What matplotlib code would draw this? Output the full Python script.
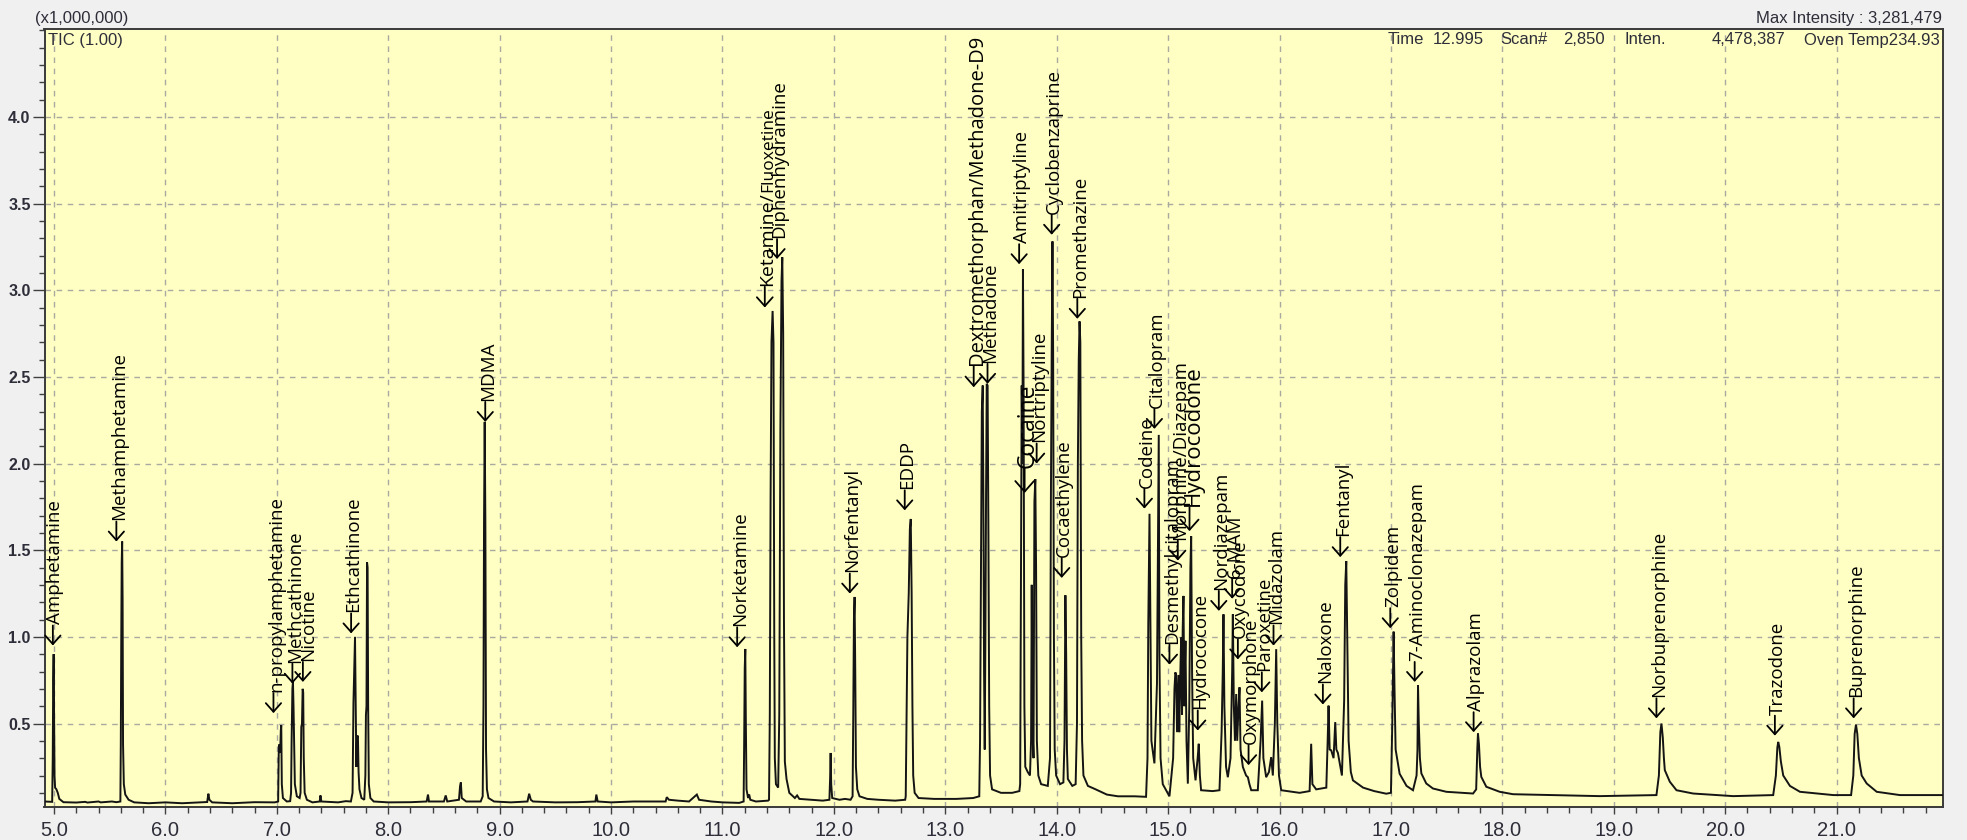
import matplotlib
matplotlib.use("Agg")
import matplotlib.pyplot as plt
from matplotlib.ticker import MultipleLocator, FormatStrFormatter
from matplotlib.transforms import offset_copy

# ---------------- TIC trace: (retention time [min], intensity [x1e6]) ----------------
tic_points = [
    (4.915, 0.050), (4.984, 0.048), (4.989, 0.30), (4.993, 0.75), (4.997, 0.90), (5.001, 0.52),
    (5.005, 0.20), (5.010, 0.13), (5.022, 0.12), (5.034, 0.10), (5.048, 0.065), (5.085, 0.046),
    (5.20, 0.044), (5.28, 0.048), (5.30, 0.044), (5.40, 0.050), (5.42, 0.045), (5.52, 0.050), (5.56, 0.046),
    (5.596, 0.050), (5.600, 0.40), (5.604, 1.00), (5.608, 1.43), (5.612, 1.55), (5.616, 1.22), (5.620, 0.38),
    (5.627, 0.15), (5.640, 0.09), (5.670, 0.060), (5.720, 0.045),
    (5.85, 0.040), (6.00, 0.045), (6.15, 0.040), (6.30, 0.045), (6.375, 0.047), (6.386, 0.095), (6.395, 0.060),
    (6.42, 0.045), (6.60, 0.040), (6.80, 0.046), (6.98, 0.045),
    (7.012, 0.050), (7.018, 0.36), (7.024, 0.38), (7.030, 0.33), (7.036, 0.46), (7.040, 0.49), (7.045, 0.15),
    (7.055, 0.07), (7.090, 0.050), (7.120, 0.052),
    (7.128, 0.10), (7.133, 0.40), (7.140, 0.70), (7.145, 0.74), (7.150, 0.60), (7.155, 0.42), (7.162, 0.15),
    (7.180, 0.08), (7.205, 0.07),
    (7.213, 0.10), (7.220, 0.48), (7.226, 0.50), (7.232, 0.70), (7.237, 0.68), (7.242, 0.30), (7.250, 0.10),
    (7.270, 0.06), (7.320, 0.045),
    (7.385, 0.050), (7.392, 0.085), (7.400, 0.050), (7.550, 0.045), (7.620, 0.052), (7.665, 0.050),
    (7.680, 0.10), (7.688, 0.62), (7.695, 0.82), (7.702, 1.00), (7.708, 0.60), (7.714, 0.25), (7.720, 0.42),
    (7.728, 0.43), (7.734, 0.22), (7.742, 0.12), (7.760, 0.07), (7.785, 0.06),
    (7.795, 0.20), (7.800, 0.55), (7.805, 0.60), (7.810, 1.43), (7.815, 1.40), (7.820, 0.60), (7.826, 0.15),
    (7.840, 0.07), (7.870, 0.05),
    (8.00, 0.045), (8.20, 0.046), (8.345, 0.050), (8.357, 0.090), (8.366, 0.050), (8.500, 0.050), (8.516, 0.085),
    (8.530, 0.050), (8.635, 0.060), (8.645, 0.14), (8.652, 0.16), (8.660, 0.07), (8.700, 0.050), (8.830, 0.050),
    (8.848, 0.08), (8.855, 0.60), (8.860, 1.66), (8.866, 2.24), (8.872, 1.66), (8.878, 0.35), (8.886, 0.12),
    (8.900, 0.07), (8.950, 0.050),
    (9.10, 0.045), (9.25, 0.050), (9.265, 0.095), (9.28, 0.060), (9.30, 0.050), (9.50, 0.045), (9.70, 0.046),
    (9.86, 0.050), (9.868, 0.090), (9.88, 0.050), (10.00, 0.045), (10.20, 0.050), (10.49, 0.050), (10.50, 0.075),
    (10.52, 0.060), (10.60, 0.055), (10.70, 0.050), (10.77, 0.090), (10.79, 0.060), (10.90, 0.050),
    (11.00, 0.045), (11.15, 0.042),
    (11.190, 0.050), (11.195, 0.40), (11.200, 0.82), (11.205, 0.93), (11.210, 0.50), (11.216, 0.12),
    (11.230, 0.07), (11.240, 0.09), (11.250, 0.06), (11.300, 0.050), (11.410, 0.055),
    (11.418, 0.06), (11.425, 0.55), (11.432, 1.80), (11.440, 2.70), (11.450, 2.88), (11.458, 2.70),
    (11.465, 1.00), (11.470, 0.30), (11.480, 0.15), (11.500, 0.13), (11.510, 0.55), (11.520, 2.20),
    (11.530, 3.05), (11.537, 3.19), (11.545, 2.75), (11.552, 1.10), (11.560, 0.28), (11.575, 0.18),
    (11.600, 0.10), (11.650, 0.07), (11.670, 0.085), (11.690, 0.065), (11.800, 0.060), (11.900, 0.055),
    (11.960, 0.060), (11.966, 0.18), (11.971, 0.33), (11.976, 0.15), (11.985, 0.07), (12.05, 0.060),
    (12.10, 0.065), (12.150, 0.060),
    (12.168, 0.08), (12.174, 0.55), (12.180, 1.10), (12.186, 1.23), (12.192, 0.80), (12.198, 0.25),
    (12.210, 0.12), (12.230, 0.08), (12.30, 0.065), (12.40, 0.060), (12.55, 0.055), (12.640, 0.060),
    (12.645, 0.08), (12.652, 0.50), (12.660, 1.00), (12.672, 1.25), (12.682, 1.62), (12.690, 1.68),
    (12.698, 1.25), (12.705, 0.60), (12.712, 0.20), (12.725, 0.10), (12.760, 0.07), (12.90, 0.065),
    (13.10, 0.065), (13.250, 0.07),
    (13.305, 0.08), (13.312, 0.40), (13.320, 1.30), (13.328, 2.30), (13.336, 2.45), (13.342, 1.80),
    (13.348, 0.80), (13.354, 0.35), (13.360, 1.00), (13.366, 1.83), (13.372, 2.46), (13.380, 2.45),
    (13.387, 1.60), (13.394, 0.60), (13.402, 0.20), (13.420, 0.12), (13.50, 0.10), (13.60, 0.10), (13.665, 0.11),
    (13.672, 0.15), (13.680, 1.50), (13.686, 2.45), (13.692, 2.00), (13.697, 3.12), (13.703, 2.40),
    (13.710, 0.60), (13.718, 0.25), (13.740, 0.22), (13.760, 0.20),
    (13.770, 0.40), (13.776, 1.30), (13.782, 0.50), (13.792, 0.30), (13.800, 1.78), (13.808, 1.91),
    (13.815, 1.40), (13.822, 0.40), (13.835, 0.20), (13.860, 0.15), (13.920, 0.14),
    (13.940, 0.30), (13.948, 1.80), (13.955, 2.64), (13.962, 3.281479), (13.968, 2.64), (13.975, 1.00),
    (13.982, 0.35), (13.995, 0.20), (14.030, 0.15), (14.060, 0.16),
    (14.070, 0.40), (14.078, 1.24), (14.085, 0.90), (14.092, 0.35), (14.100, 0.18), (14.140, 0.14), (14.170, 0.15),
    (14.182, 0.50), (14.190, 2.00), (14.198, 2.60), (14.205, 2.82), (14.212, 2.70), (14.220, 1.00),
    (14.228, 0.40), (14.240, 0.20), (14.280, 0.14), (14.350, 0.12), (14.450, 0.09), (14.550, 0.08),
    (14.700, 0.08), (14.802, 0.077),
    (14.815, 0.30), (14.822, 1.07), (14.828, 1.40), (14.833, 1.71), (14.840, 1.20), (14.850, 0.40),
    (14.877, 0.27), (14.900, 0.73), (14.910, 1.60), (14.916, 2.165), (14.922, 0.90), (14.932, 0.30),
    (14.952, 0.15), (15.012, 0.08), (15.045, 0.30), (15.057, 0.70), (15.065, 0.795), (15.072, 0.78),
    (15.080, 0.45), (15.093, 0.78), (15.100, 0.45), (15.110, 0.80), (15.117, 0.996), (15.125, 0.55),
    (15.131, 1.05), (15.138, 1.236), (15.145, 0.60), (15.150, 0.80), (15.156, 0.977), (15.165, 0.40),
    (15.177, 0.153), (15.190, 0.60), (15.200, 1.40), (15.207, 1.58), (15.215, 0.80), (15.225, 0.30),
    (15.246, 0.172), (15.265, 0.30), (15.275, 0.383), (15.285, 0.20), (15.296, 0.115), (15.400, 0.11),
    (15.461, 0.115), (15.480, 0.45), (15.490, 0.78), (15.497, 1.13), (15.505, 0.60), (15.520, 0.25),
    (15.536, 0.19), (15.560, 0.30), (15.575, 0.80), (15.581, 1.13), (15.590, 0.60), (15.600, 0.40),
    (15.611, 0.67), (15.620, 0.40), (15.632, 0.60), (15.641, 0.709), (15.650, 0.35), (15.671, 0.249),
    (15.700, 0.20), (15.716, 0.19), (15.730, 0.15), (15.746, 0.115), (15.805, 0.115), (15.830, 0.40),
    (15.844, 0.632), (15.855, 0.30), (15.880, 0.19), (15.905, 0.22), (15.925, 0.306), (15.940, 0.20),
    (15.958, 0.50), (15.970, 0.929), (15.980, 0.50), (15.995, 0.20), (16.015, 0.115), (16.180, 0.10),
    (16.270, 0.11), (16.284, 0.383), (16.295, 0.15), (16.329, 0.12), (16.420, 0.13), (16.432, 0.40),
    (16.440, 0.603), (16.450, 0.35), (16.464, 0.345), (16.485, 0.30), (16.500, 0.508), (16.510, 0.35),
    (16.524, 0.33), (16.560, 0.20), (16.580, 0.632), (16.590, 1.30), (16.599, 1.437), (16.608, 1.00),
    (16.620, 0.40), (16.640, 0.22), (16.659, 0.172), (16.750, 0.13), (16.850, 0.11), (16.958, 0.095),
    (17.000, 0.10), (17.012, 0.50), (17.018, 0.776), (17.024, 1.03), (17.032, 0.70), (17.042, 0.35),
    (17.078, 0.21), (17.140, 0.14), (17.198, 0.115),
    (17.230, 0.20), (17.238, 0.346), (17.243, 0.721), (17.250, 0.50), (17.260, 0.30), (17.273, 0.212),
    (17.317, 0.154), (17.377, 0.125), (17.497, 0.106), (17.737, 0.096),
    (17.765, 0.12), (17.775, 0.35), (17.781, 0.442), (17.790, 0.38), (17.800, 0.25), (17.811, 0.192),
    (17.856, 0.135), (17.976, 0.106), (18.096, 0.092), (18.874, 0.081), (19.383, 0.087),
    (19.405, 0.20), (19.418, 0.45), (19.428, 0.50), (19.440, 0.42), (19.450, 0.30), (19.458, 0.231),
    (19.503, 0.164), (19.563, 0.115), (19.713, 0.096), (20.072, 0.081), (20.431, 0.087),
    (20.455, 0.20), (20.468, 0.36), (20.476, 0.394), (20.486, 0.365), (20.500, 0.28), (20.521, 0.20),
    (20.581, 0.14), (20.671, 0.106), (20.970, 0.087), (21.130, 0.087),
    (21.150, 0.20), (21.162, 0.44), (21.174, 0.494), (21.186, 0.44), (21.200, 0.30), (21.225, 0.20),
    (21.270, 0.154), (21.360, 0.106), (21.569, 0.087), (21.955, 0.087),
]

# ---------------- identified compounds ----------------
compound_names = [
    "Amphetamine", "Methamphetamine", "n-propylamphetamine", "Methcathinone", "Nicotine",
    "Ethcathinone", "MDMA", "Norketamine", "Ketamine/", "Diphenhydramine", "Norfentanyl", "EDDP",
    "Dextromethorphan/Methadone-D9", "Methadone", "Amitriptyline", "Cocaine", "Nortriptyline",
    "Cyclobenzaprine", "Cocaethylene", "Promethazine", "Codeine", "Citalopram",
    "Desmethylcitalopram", "Morphine/Diazepam", "Hydrocodone", "Hydrococone", "Nordiazepam",
    "6-MAM", "Oxycodone", "Oxymorphone", "Paroxetine", "Midazolam", "Naloxone", "Fentanyl",
    "Zolpidem", "7-Aminoclonazepam", "Alprazolam", "Norbuprenorphine", "Trazodone", "Buprenorphine",
]
# continuation printed in smaller type after a name
name_suffix = {"Ketamine/": "Fluoxetine"}

# arrow tip of each annotation (time, intensity) and its type size in pt
label_anchor = [
    (4.990, 0.95), (5.560, 1.55), (6.970, 0.56), (7.140, 0.73), (7.234, 0.74),
    (7.667, 1.02), (8.871, 2.24), (11.132, 0.94), (11.380, 2.90), (11.490, 3.18), (12.143, 1.25),
    (12.636, 1.73), (13.255, 2.44), (13.379, 2.46), (13.663, 3.15), (13.712, 1.83), (13.820, 2.00),
    (13.955, 3.32), (14.045, 1.34), (14.185, 2.835), (14.787, 1.74), (14.877, 2.20),
    (15.012, 0.84), (15.087, 1.44), (15.192, 1.61), (15.266, 0.46), (15.455, 1.15),
    (15.575, 1.22), (15.626, 0.87), (15.722, 0.26), (15.841, 0.68), (15.946, 0.95), (16.389, 0.61),
    (16.545, 1.46), (16.994, 1.05), (17.213, 0.74), (17.742, 0.45), (19.383, 0.53), (20.446, 0.43),
    (21.153, 0.53),
]
label_size = [
    13.5, 13.5, 13.5, 13.5, 13.5,
    13.5, 13.5, 13.5, 14.0, 13.5, 13.5,
    13.5, 14.5, 13.5, 13.5, 16.5, 13.5,
    13.5, 13.5, 13.5, 13.5, 13.5,
    13.5, 13.5, 16, 13.5, 13.5,
    13.5, 13.5, 13.5, 13.5, 13.5, 13.5,
    13.5, 13.5, 13.5, 13.5, 13.5, 13.5,
    13.5,
]
suffix_size = 12.5
# sideways nudge (pixels) of a name relative to its arrow
text_shift_px = {"Nicotine": 3.0}

# ---------------- header information ----------------
scan_time = "12.995"
scan_number = "2,850"
scan_intensity = "4,478,387"
oven_temp = "234.93"

W, H = 1967, 840
BG = "#f0f0f0"
PLOT_BG = "#ffffc4"
INK = "#2e2e3a"
LABEL_FONT = ["Open Sans", "DejaVu Sans"]
UI_FONT = ["Liberation Sans", "DejaVu Sans"]
NARROW_FONT = ["Liberation Sans Narrow", "Liberation Sans", "DejaVu Sans"]

fig = plt.figure(figsize=(W / 100, H / 100), dpi=100, facecolor=BG)
ax_l, ax_r, ax_t, ax_b = 44.5, 1943.0, 29.3, 806.7
ax = fig.add_axes([ax_l / W, 1 - ax_b / H, (ax_r - ax_l) / W, (ax_b - ax_t) / H])
ax.set_facecolor(PLOT_BG)

times = [p[0] for p in tic_points]
signal = [p[1] for p in tic_points]

ax.set_xlim(4.915, 21.955)
ax.set_ylim(0.02, 4.505)

# dashed grid
ax.xaxis.set_major_locator(MultipleLocator(1.0))
ax.xaxis.set_minor_locator(MultipleLocator(0.2))
ax.yaxis.set_major_locator(MultipleLocator(0.5))
ax.yaxis.set_minor_locator(MultipleLocator(0.1))
ax.grid(True, which="major", color="#a9a9a0", linestyle=(0, (4, 4)), linewidth=1.0)
ax.set_axisbelow(True)

ax.plot(times, signal, color="#141414", linewidth=1.4, solid_joinstyle="miter", zorder=3)

# y tick labels: 0.5 .. 4.0 (0.0 is not printed)
ax.yaxis.set_major_formatter(FormatStrFormatter("%.1f"))
ax.set_yticks([0.5, 1.0, 1.5, 2.0, 2.5, 3.0, 3.5, 4.0])
ax.xaxis.set_major_formatter(FormatStrFormatter("%.1f"))
ax.set_xticks(range(5, 22))

ax.tick_params(axis="x", which="major", direction="out", length=5, width=1.0, color="#404040",
               pad=5, labelsize=14.5, labelcolor=INK)
ax.tick_params(axis="x", which="minor", direction="out", length=4, width=1.0, color="#404040")
ax.tick_params(axis="y", which="major", direction="out", length=9, width=1.0, color="#404040",
               pad=1, labelsize=11.5, labelcolor=INK)
ax.tick_params(axis="y", which="minor", direction="out", length=4.5, width=1.0, color="#404040")
for lbl in ax.get_xticklabels():
    lbl.set_family(NARROW_FONT)
for lbl in ax.get_yticklabels():
    lbl.set_family(UI_FONT)
    lbl.set_fontweight("bold")

for side in ("left", "right", "top", "bottom"):
    ax.spines[side].set_color("#3a3a3a")
    ax.spines[side].set_linewidth(1.4)

# compound annotations: a short down-pointing arrow, then the name running upwards
fig.canvas.draw()
renderer = fig.canvas.get_renderer()
to_data = ax.transData.inverted()


def vertical_text(t, y, s, fs, tr):
    return ax.text(t, y, s, rotation=90, rotation_mode="anchor", ha="left", va="baseline",
                   fontsize=fs, family=LABEL_FONT, color="black", transform=tr, zorder=4,
                   clip_on=False)


for name, (t, v), fs in zip(compound_names, label_anchor, label_size):
    k = fs / 13.5
    shaft = 20.0 * k  # arrow length in pixels
    ax.annotate("", xy=(t, v), xycoords="data", xytext=(0, shaft), textcoords="offset pixels",
                arrowprops=dict(arrowstyle="->,head_length=%.2f,head_width=%.2f" % (0.62 * k, 0.55 * k),
                                lw=1.3, color="black", shrinkA=0, shrinkB=0, mutation_scale=10),
                zorder=4, annotation_clip=False)
    dx = 0.40 * fs + 0.72 * text_shift_px.get(name, 0.0)
    tr = offset_copy(ax.transData, fig=fig, x=dx, y=(shaft + 1.0) * 0.72, units="points")
    body = vertical_text(t, v, name, fs, tr)
    if name in name_suffix:
        bb = body.get_window_extent(renderer)
        top = to_data.transform((0, bb.y1))[1]
        tr2 = offset_copy(ax.transData, fig=fig, x=dx, y=0, units="points")
        vertical_text(t, top, name_suffix[name], suffix_size, tr2)

# header and status line
def px(x, y):
    return x / W, 1 - y / H


fig.text(*px(35, 19), "(x1,000,000)", ha="left", va="center", fontsize=12, family=UI_FONT, color=INK)
fig.text(*px(48, 40), "TIC (1.00)", ha="left", va="center", fontsize=12, family=UI_FONT, color=INK)
max_int = max(signal) * 1e6
fig.text(*px(1942, 19), "Max Intensity : {:,.0f}".format(max_int), ha="right", va="center",
         fontsize=12, family=UI_FONT, color=INK)
fig.text(*px(1388, 40), "Time", ha="left", va="center", fontsize=12, family=UI_FONT, color=INK)
fig.text(*px(1484, 40), scan_time, ha="right", va="center", fontsize=12, family=UI_FONT, color=INK)
fig.text(*px(1500, 40), "Scan#", ha="left", va="center", fontsize=12, family=UI_FONT, color=INK)
fig.text(*px(1605, 40), scan_number, ha="right", va="center", fontsize=12, family=UI_FONT, color=INK)
fig.text(*px(1625, 40), "Inten.", ha="left", va="center", fontsize=12, family=UI_FONT, color=INK)
fig.text(*px(1785, 40), scan_intensity, ha="right", va="center", fontsize=12, family=UI_FONT, color=INK)
fig.text(*px(1940, 40), "Oven Temp" + oven_temp, ha="right", va="center", fontsize=12,
         family=UI_FONT, color=INK)

fig.savefig("out.png", dpi=100, facecolor=BG)
